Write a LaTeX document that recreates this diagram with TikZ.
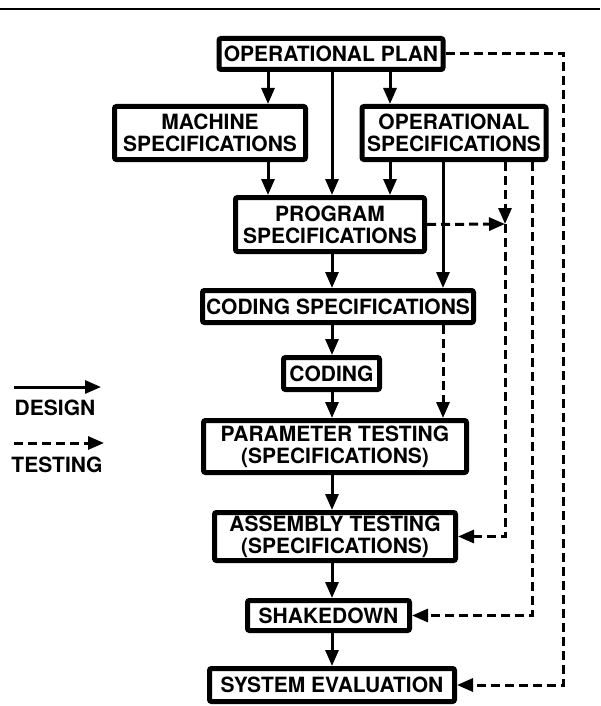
\documentclass[tikz,border=0pt]{standalone}
\usepackage{fontspec}
\setmainfont{TeX Gyre Heros}
\usepackage{tikz}
\usetikzlibrary{arrows.meta}

\tikzset{
  bigfont/.style={font=\fontsize{21}{22}\selectfont\bfseries},
  stage/.style={draw, line width=5pt, rounded corners=2pt, inner sep=0pt, align=center, bigfont},
  design/.style={line width=3pt, -{Triangle[length=16pt,width=13pt]}},
  testing/.style={design, dash pattern=on 9pt off 5pt},
}

\begin{document}
\begin{tikzpicture}[x=1pt,y=-1pt]
\useasboundingbox (0,0) rectangle (600,706);
\draw[line width=2pt] (0,9) -- (600,9);

\node[stage, minimum width=224pt, minimum height=31pt] (plan) at (331,54) {OPERATIONAL PLAN};
\node[stage, minimum width=191pt, minimum height=53pt] (mach) at (210,133) {MACHINE\\SPECIFICATIONS};
\node[stage, minimum width=184pt, minimum height=53pt] (opspec) at (454,133) {OPERATIONAL\\SPECIFICATIONS};
\node[stage, minimum width=189pt, minimum height=54pt] (prog) at (330,224.5) {PROGRAM\\SPECIFICATIONS};
\node[stage, minimum width=271pt, minimum height=32pt] (codspec) at (338,306.5) {CODING SPECIFICATIONS};
\node[stage, minimum width=96pt, minimum height=32pt] (coding) at (331.5,373.5) {CODING};
\node[stage, minimum width=263pt, minimum height=52pt] (param) at (335,446.5) {PARAMETER TESTING\\(SPECIFICATIONS)};
\node[stage, minimum width=241pt, minimum height=48pt] (assem) at (335,536.5) {ASSEMBLY TESTING\\(SPECIFICATIONS)};
\node[stage, minimum width=162pt, minimum height=30pt] (shake) at (328.5,615.5) {SHAKEDOWN};
\node[stage, minimum width=245pt, minimum height=33pt] (syseval) at (332,685) {SYSTEM EVALUATION};

\draw[design] (plan.south -| 268,0) -- (mach.north -| 268,0);
\draw[design] (plan.south -| 332,0) -- (prog.north -| 332,0);
\draw[design] (plan.south -| 390,0) -- (opspec.north -| 390,0);
\draw[design] (mach.south -| 268,0) -- (prog.north -| 268,0);
\draw[design] (opspec.south -| 390,0) -- (prog.north -| 390,0);
\draw[design] (opspec.south -| 443,0) -- (codspec.north -| 443,0);
\draw[design] (prog.south -| 332,0) -- (codspec.north -| 332,0);
\draw[design] (codspec.south -| 332,0) -- (coding.north -| 332,0);
\draw[design] (coding.south -| 332,0) -- (param.north -| 332,0);
\draw[design] (param.south -| 332,0) -- (assem.north -| 332,0);
\draw[design] (assem.south -| 332,0) -- (shake.north -| 332,0);
\draw[design] (shake.south -| 332,0) -- (syseval.north -| 332,0);

\coordinate (join) at (505,224);
\draw[testing] (codspec.south -| 443,0) -- (param.north -| 443,0);
\draw[testing] (prog.east) -- (join);
\draw[testing] (opspec.south -| join) -- (join);
\draw[testing] (join) |- (assem.east);
\draw[testing] (opspec.south -| 532,0) |- (shake.east);
\draw[testing] (plan.east) -- (plan.east -| 563,0) |- (syseval.east);

\coordinate (dA) at (14,387);
\coordinate (dB) at (101,387);
\coordinate (tA) at (14,443);
\coordinate (tB) at (104,443);
\draw[design] (dA) -- (dB);
\node[bigfont] (design) at (55,408) {DESIGN};
\draw[testing] (tA) -- (tB);
\node[bigfont] (testing) at (57,465) {TESTING};
\end{tikzpicture}
\end{document}
